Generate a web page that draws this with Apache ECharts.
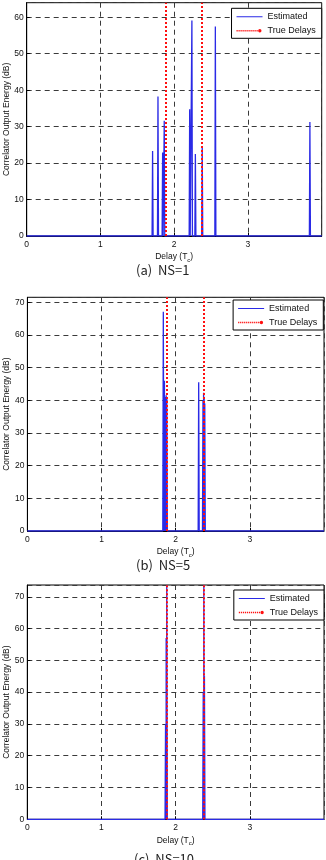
<!DOCTYPE html>
<html><head><meta charset="utf-8">
<script src="https://cdn.jsdelivr.net/npm/echarts@6/dist/echarts.min.js"></script>
<style>html,body{margin:0;padding:0;background:#fff}#c{width:326px;height:860px}</style>
</head><body><div id="c"></div>
<script>
// ---- data ----
const captions = ['(a)  NS=1', '(b)  NS=5', '(c)  NS=10'];
const seriesNames = ['Estimated', 'True Delays'];
const xMin = 0, xMax = 4, xStep = 1;
const yStep = 10;
const yTop = [64, 71.5, 73.7];
const trueDelays = [1.88, 2.385];

// NS=1 : estimated correlator peaks (delay in Tc, energy in dB)
const peakDelay1 = [1.707, 1.78, 1.843, 1.865, 2.21, 2.24, 2.287, 2.38, 2.558, 3.84];
const peakEnergy1 = [23.3, 38.3, 22.9, 31.6, 34.8, 59.1, 22.5, 24.5, 57.5, 31.3];
// NS=5
const peakDelay2 = [1.833, 1.84, 1.848, 1.856, 1.864, 1.872, 1.88, 2.31, 2.368, 2.376, 2.384, 2.392];
const peakEnergy2 = [67.1, 40.5, 46, 41, 40, 41.5, 40.5, 45.5, 40, 42.3, 41, 39];
// NS=10
const peakDelay3 = [1.864, 1.872, 1.88, 2.372, 2.38, 2.388];
const peakEnergy3 = [30, 57, 73.7, 40, 73.7, 45];
const baseEnergy = 0;

// ---- build line data: zero floor with narrow peaks ----
const halfWidth = 0.007;
function peaksToLine(delays, energies) {
  const pts = [[xMin, baseEnergy]];
  delays.forEach((d, i) => {
    pts.push([d - halfWidth, baseEnergy]);
    pts.push([d, energies[i]]);
    pts.push([d + halfWidth, baseEnergy]);
  });
  pts.push([xMax, baseEnergy]);
  return pts;
}
const peaks = [[peakDelay1, peakEnergy1], [peakDelay2, peakEnergy2], [peakDelay3, peakEnergy3]];

const FONT = '"Liberation Sans", Arial, sans-serif';
const BLUE = '#2a2ae6', RED = '#ff1010';
const grids = [
  { left: 26.7, right: 4.3, top: 2.7, height: 233.3 },
  { left: 27.4, right: 2, top: 297.3, height: 233.7 },
  { left: 27.3, right: 2, top: 585, height: 234.3 }
];
const legendPos = [
  { right: 4.3, top: 8.3 },
  { right: 2.7, top: 300 },
  { right: 2, top: 590 }
];
const captionPos = [
  { left: 136, top: 264 },
  { left: 136, top: 559 },
  { left: 134, top: 853 }
];

// legend icons (26 x 8 box; tiny corner squares fix the box)
const corners = 'M0,0h0.01v0.01h-0.01z M25.99,7.99h0.01v0.01h-0.01z ';
const iconSolid = 'path://' + corners + 'M0,3.5h26v1h-26z';
let dots = '';
for (let x = 0; x < 21; x += 2) dots += 'M' + x + ',3.3h1.2v1.4h-1.2z ';
const iconDotted = 'path://' + corners + dots + 'M21.6,4a1.7,1.7 0 1,0 3.4,0a1.7,1.7 0 1,0 -3.4,0z';

const gridDash = { color: '#3a3a3a', width: 1, type: [5, 4] };
const option = {
  backgroundColor: '#fff',
  animation: false,
  title: captions.map((t, i) => ({
    text: t, left: captionPos[i].left, top: captionPos[i].top, padding: 0,
    textStyle: { fontSize: 13, fontWeight: 'normal', color: '#222', fontFamily: '"Noto Sans CJK KR", "DejaVu Sans", sans-serif' }
  })),
  legend: legendPos.map((p, i) => ({
    data: [
      { name: seriesNames[0], icon: iconSolid, itemStyle: { color: BLUE } },
      { name: seriesNames[1], icon: iconDotted, itemStyle: { color: RED } }
    ],
    orient: 'vertical', right: p.right, top: p.top,
    itemWidth: 26, itemHeight: 8, itemGap: 5, symbolKeepAspect: false,
    padding: [4, 6, 3, 5], borderColor: '#000', borderWidth: 1, backgroundColor: '#fff',
    textStyle: { fontSize: 9, color: '#111', fontFamily: FONT },
    selectedMode: false
  })),
  grid: grids.map(g => Object.assign({ show: true, borderColor: '#000', borderWidth: 1, backgroundColor: '#fff', outerBoundsMode: 'none', containLabel: false }, g)),
  xAxis: grids.map((g, i) => ({
    type: 'value', gridIndex: i, min: xMin, max: xMax, interval: xStep,
    name: 'Delay (T{sub|c})', nameLocation: 'middle', nameGap: 15, nameMoveOverlap: false,
    nameTextStyle: { fontSize: 8.5, color: '#111', fontFamily: FONT,
      rich: { sub: { fontSize: 6, color: '#111', fontFamily: FONT, padding: [6, 0, 0, 0] } } },
    axisLine: { lineStyle: { color: '#000', width: 1 } },
    axisTick: { inside: true, length: 3, lineStyle: { color: '#000' } },
    axisLabel: { fontSize: 8.5, color: '#111', margin: 4, showMaxLabel: false, fontFamily: FONT },
    splitLine: { show: true, lineStyle: gridDash }
  })),
  yAxis: grids.map((g, i) => ({
    type: 'value', gridIndex: i, min: 0, max: yTop[i], interval: yStep,
    name: 'Correlator Output Energy (dB)', nameLocation: 'middle', nameGap: 16, nameMoveOverlap: false,
    nameTextStyle: { fontSize: 8.5, color: '#111', fontFamily: FONT },
    axisLine: { lineStyle: { color: '#000', width: 1 } },
    axisTick: { inside: true, length: 3, lineStyle: { color: '#000' } },
    axisLabel: { fontSize: 8.5, color: '#111', margin: 3, showMaxLabel: false, fontFamily: FONT },
    splitLine: { show: true, lineStyle: gridDash }
  })),
  series: []
};
peaks.forEach((pk, i) => {
  option.series.push({
    name: seriesNames[0], type: 'line', xAxisIndex: i, yAxisIndex: i,
    data: peaksToLine(pk[0], pk[1]), showSymbol: false, symbol: 'none',
    lineStyle: { color: BLUE, width: 1.3 }, itemStyle: { color: BLUE },
    z: 2
  });
  option.series.push({
    name: seriesNames[1], type: 'line', xAxisIndex: i, yAxisIndex: i,
    data: [], symbol: 'circle', symbolSize: 4, showSymbol: false,
    lineStyle: { color: RED, width: 2, type: 'dotted' }, itemStyle: { color: RED },
    z: 3,
    markLine: {
      silent: true, symbol: 'none', animation: false,
      label: { show: false },
      lineStyle: { color: RED, width: 2, type: 'dotted' },
      data: trueDelays.map(d => ({ xAxis: d }))
    }
  });
});
const chart = echarts.init(document.getElementById('c'), null, { renderer: 'canvas' });
chart.setOption(option);
</script></body></html>
